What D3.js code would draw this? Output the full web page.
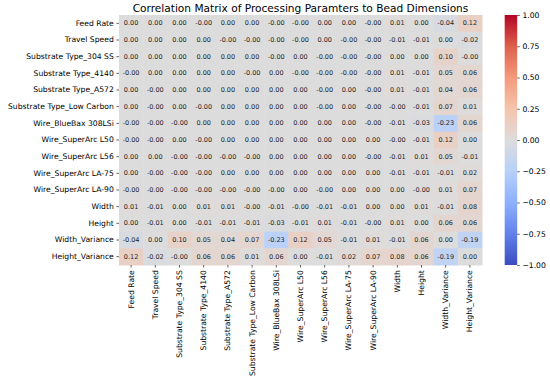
<!DOCTYPE html>
<html>
<head>
<meta charset="utf-8">
<style>
  html, body {
    margin: 0;
    padding: 0;
    background: #fff;
    font-family: "DejaVu Sans", sans-serif;
  }
</style>
<script src="https://d3js.org/d3.v7.min.js"></script>
</head>
<body>
<div id="heatmap_viz"></div>
<script>
// variable names (rows and columns are the same list)
const labels = [
  "Feed Rate", "Travel Speed", "Substrate Type_304 SS", "Substrate Type_4140",
  "Substrate Type_A572", "Substrate Type_Low Carbon", "Wire_BlueBax 308LSi",
  "Wire_SuperArc L50", "Wire_SuperArc L56", "Wire_SuperArc LA-75",
  "Wire_SuperArc LA-90", "Width", "Height", "Width_Variance", "Height_Variance"
];

// correlation values (-0.001 = shown as "-0.00")
const corrValues = [
  [0.00, 0.00, 0.00, -0.001, 0.00, 0.00, -0.001, -0.001, 0.00, 0.00, -0.001, 0.01, 0.00, -0.04, 0.12],
  [0.00, 0.00, 0.00, 0.00, -0.001, -0.001, -0.001, -0.001, 0.00, -0.001, -0.001, -0.01, -0.01, 0.00, -0.02],
  [0.00, 0.00, 0.00, 0.00, 0.00, 0.00, -0.001, 0.00, -0.001, -0.001, -0.001, 0.00, 0.00, 0.10, -0.001],
  [-0.001, 0.00, 0.00, 0.00, 0.00, -0.001, 0.00, -0.001, -0.001, -0.001, -0.001, 0.01, -0.01, 0.05, 0.06],
  [0.00, -0.001, 0.00, 0.00, 0.00, 0.00, 0.00, 0.00, -0.001, 0.00, -0.001, 0.01, -0.01, 0.04, 0.06],
  [0.00, -0.001, 0.00, -0.001, 0.00, 0.00, 0.00, 0.00, -0.001, 0.00, -0.001, -0.001, -0.01, 0.07, 0.01],
  [-0.001, -0.001, -0.001, 0.00, 0.00, 0.00, 0.00, 0.00, 0.00, 0.00, -0.001, -0.01, -0.03, -0.23, 0.06],
  [-0.001, -0.001, 0.00, -0.001, 0.00, 0.00, 0.00, 0.00, 0.00, 0.00, 0.00, -0.001, -0.01, 0.12, 0.00],
  [0.00, 0.00, -0.001, -0.001, -0.001, -0.001, 0.00, 0.00, 0.00, 0.00, -0.001, -0.01, 0.01, 0.05, -0.01],
  [0.00, -0.001, -0.001, -0.001, 0.00, 0.00, 0.00, 0.00, 0.00, 0.00, 0.00, -0.01, -0.01, -0.01, 0.02],
  [-0.001, -0.001, -0.001, -0.001, -0.001, -0.001, -0.001, 0.00, -0.001, 0.00, 0.00, 0.00, -0.001, 0.01, 0.07],
  [0.01, -0.01, 0.00, 0.01, 0.01, -0.001, -0.01, -0.001, -0.01, -0.01, 0.00, 0.00, 0.01, -0.01, 0.08],
  [0.00, -0.01, 0.00, -0.01, -0.01, -0.01, -0.03, -0.01, 0.01, -0.01, -0.001, 0.01, 0.00, 0.06, 0.06],
  [-0.04, 0.00, 0.10, 0.05, 0.04, 0.07, -0.23, 0.12, 0.05, -0.01, 0.01, -0.01, 0.06, 0.00, -0.19],
  [0.12, -0.02, -0.001, 0.06, 0.06, 0.01, 0.06, 0.00, -0.01, 0.02, 0.07, 0.08, 0.06, -0.19, 0.00]
];

// colorbar ticks
const cbarTicks = [-1.00, -0.75, -0.50, -0.25, 0.00, 0.25, 0.50, 0.75, 1.00];

// coolwarm colormap stops
const coolwarmStops = [-1, -0.75, -0.5, -0.25, 0, 0.25, 0.5, 0.75, 1];
const coolwarmColors = ["#3b4cc0", "#6282ea", "#8db0fe", "#b8d0f9", "#dddcdc",
                        "#f5c4ac", "#f49a7b", "#dd604c", "#b40426"];

const W = 550, H = 382;
const margin = {top: 15, left: 119};
const hmWidth = 363, hmHeight = 250;
const tickLen = 2.6, tickPad = 2.6;
const labelSize = "7.65px";

const svg = d3.select("#heatmap_viz")
  .append("svg")
    .attr("width", W)
    .attr("height", H)
    .style("font-family", "'DejaVu Sans', sans-serif");

const color = d3.scaleLinear()
  .domain(coolwarmStops)
  .range(coolwarmColors)
  .interpolate(d3.interpolateRgb)
  .clamp(true);

const x = d3.scaleBand().domain(labels).range([0, hmWidth]);
const y = d3.scaleBand().domain(labels).range([0, hmHeight]);

const g = svg.append("g")
  .attr("transform", "translate(" + margin.left + "," + margin.top + ")");

// flatten matrix into cells
const cells = [];
corrValues.forEach((row, i) => {
  row.forEach((v, j) => {
    cells.push({row: labels[i], col: labels[j], value: v});
  });
});

g.selectAll("rect.cell")
  .data(cells)
  .enter()
  .append("rect")
    .attr("class", "cell")
    .attr("x", d => x(d.col))
    .attr("y", d => y(d.row))
    .attr("width", x.bandwidth() + 0.5)
    .attr("height", y.bandwidth() + 0.5)
    .attr("fill", d => color(d.value));

g.selectAll("text.annot")
  .data(cells)
  .enter()
  .append("text")
    .attr("class", "annot")
    .attr("x", d => x(d.col) + x.bandwidth() / 2)
    .attr("y", d => y(d.row) + y.bandwidth() / 2)
    .attr("text-anchor", "middle")
    .attr("dominant-baseline", "central")
    .attr("font-size", "6.5px")
    .attr("fill", "#262626")
    .text(d => d.value.toFixed(2));

// axes
const yAxis = g.append("g")
  .call(d3.axisLeft(y).tickSize(tickLen).tickPadding(tickPad));
const xAxis = g.append("g")
  .attr("transform", "translate(0," + hmHeight + ")")
  .call(d3.axisBottom(x).tickSize(tickLen).tickPadding(tickPad));

[xAxis, yAxis].forEach(a => {
  a.select(".domain").remove();
  a.selectAll(".tick line").attr("stroke", "#000").attr("stroke-width", 0.6);
  a.selectAll("text")
    .attr("font-size", labelSize)
    .attr("font-family", "'DejaVu Sans', sans-serif")
    .attr("fill", "#000");
});

xAxis.selectAll("text")
  .attr("transform", "rotate(-90)")
  .attr("text-anchor", "end")
  .attr("x", -(tickLen + tickPad))
  .attr("y", 0)
  .attr("dy", "0.32em");

// title
svg.append("text")
  .attr("x", margin.left + hmWidth / 2)
  .attr("y", 11.5)
  .attr("text-anchor", "middle")
  .attr("font-size", "10.6px")
  .attr("fill", "#000")
  .text("Correlation Matrix of Processing Paramters to Bead Dimensions");

// colorbar (matplotlib style: gap = width/16, bar width = height/20)
const cbX = margin.left + hmWidth + hmWidth / 16, cbW = hmHeight / 20;
const cbScale = d3.scaleLinear().domain([-1, 1]).range([margin.top + hmHeight, margin.top]);

const defs = svg.append("defs");
const grad = defs.append("linearGradient")
  .attr("id", "cbGrad")
  .attr("x1", "0").attr("y1", "1")
  .attr("x2", "0").attr("y2", "0");
grad.selectAll("stop")
  .data(d3.range(0, 1.0001, 0.025))
  .enter()
  .append("stop")
    .attr("offset", d => d)
    .attr("stop-color", d => color(d * 2 - 1));

svg.append("rect")
  .attr("x", cbX)
  .attr("y", margin.top)
  .attr("width", cbW)
  .attr("height", hmHeight)
  .attr("fill", "url(#cbGrad)");

const cbAxis = svg.append("g")
  .attr("transform", "translate(" + (cbX + cbW) + ",0)")
  .call(d3.axisRight(cbScale).tickValues(cbarTicks).tickSize(tickLen).tickPadding(tickPad)
    .tickFormat(d => (d < 0 ? "\u2212" : "") + Math.abs(d).toFixed(2)));
cbAxis.select(".domain").remove();
cbAxis.selectAll(".tick line").attr("stroke", "#000").attr("stroke-width", 0.6);
cbAxis.selectAll("text")
  .attr("font-size", labelSize)
  .attr("font-family", "'DejaVu Sans', sans-serif")
  .attr("fill", "#000");
</script>
</body>
</html>
